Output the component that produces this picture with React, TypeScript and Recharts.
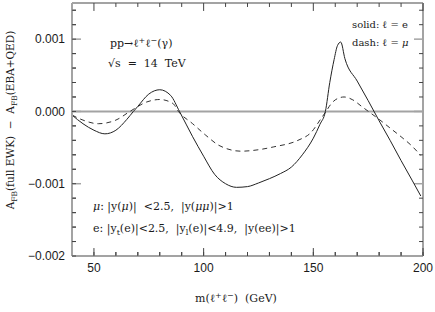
import React from "react"
import { LineChart, Line, XAxis, YAxis, ReferenceLine } from "recharts"

// ─── Data ────────────────────────────────────────────────────────────────────
// solid: l = e
const eMass = [40, 45, 50, 55, 60, 65, 68, 70, 75, 80, 85, 89, 95, 100, 105, 110, 115, 120, 125, 130, 135, 140, 145, 150, 153, 155.5, 157.5, 159.5, 161, 162.5, 164.4, 170, 175, 180, 185, 190, 195, 199]
const eDiff = [-0.00005, -0.00017, -0.00026, -0.00031, -0.00026, -0.00011, 0.0, 0.00007, 0.00024, 0.0003, 0.00022, 0.0, -0.00035, -0.00062, -0.00087, -0.001, -0.00105, -0.00104, -0.00099, -0.00093, -0.00086, -0.00077, -0.0006, -0.00037, -0.00018, 0.0, 0.0004, 0.00072, 0.00091, 0.00096, 0.00073, 0.00042, 0.00015, -0.00013, -0.0004, -0.00068, -0.00095, -0.00117]

// dash: l = mu
const muMass = [40, 45, 52, 60, 66.4, 74, 80, 86, 88.5, 95, 101, 107, 110, 117, 125, 132, 143, 149, 153.5, 155.8, 158, 160, 164, 168, 172, 176, 180, 185, 190, 195, 199]
const muDiff = [-0.00005, -0.00012, -0.00017, -0.00012, 0.0, 0.00013, 0.000165, 0.00011, 0.0, -0.00017, -0.00033, -0.00047, -0.00051, -0.00055, -0.00053, -0.00049, -0.0004, -0.00029, -0.0001, 0.0, 0.0001, 0.00016, 0.0002, 0.00016, 0.00007, -0.00002, -0.00011, -0.00023, -0.00035, -0.00048, -0.00061]

// ─── Axis ticks ──────────────────────────────────────────────────────────────
const xLabelTicks = [50, 100, 150, 200]
const xAllTicks = [40, 50, 60, 70, 80, 90, 100, 110, 120, 130, 140, 150, 160, 170, 180, 190, 200]
const yLabelTicks = [-0.002, -0.001, 0, 0.001]
const yAllTicks = [-0.002, -0.0018, -0.0016, -0.0014, -0.0012, -0.001, -0.0008, -0.0006, -0.0004, -0.0002, 0, 0.0002, 0.0004, 0.0006, 0.0008, 0.001, 0.0012, 0.0014]

const X_DOMAIN: [number, number] = [40, 200]
const Y_DOMAIN: [number, number] = [-0.002, 0.0015]

// tick stub lengths, in axis units (about 4px minor / 8-9px major)
const X_STUB = { minor: 1.8, major: 4.1 }
const Y_STUB = { minor: 0.000055, major: 0.00011 }

const FRAME = "#a3a3a3"
const TICK = "#444"
const INK = "#1a1a1a"
const SERIF = "'DejaVu Serif', serif"
const SANS = "'Liberation Sans', Arial, sans-serif"
const SP = "\u00a0" // keeps the wide gaps of the original typesetting

const eData = eMass.map((x, i) => ({ x, y: eDiff[i] }))
const muData = muMass.map((x, i) => ({ x, y: muDiff[i] }))

const isIn = (list: number[], v: number) => list.some((m) => Math.abs(m - v) < 1e-9)
// only the major ticks carry a label
const fmtX = (v: number) => (isIn(xLabelTicks, v) ? String(v) : "")
const fmtY = (v: number) =>
  isIn(yLabelTicks, v) ? (v < 0 ? "\u2212" : "") + Math.abs(v).toFixed(3) : ""

type Pt = { x: number; y: number }
type Stub = { key: string; seg: [Pt, Pt]; major: boolean; vertical: boolean }

// inward tick stubs on the top/right edges, and the longer major stubs
const stubs: Stub[] = [
  ...yAllTicks.flatMap((v) => {
    const major = isIn(yLabelTicks, v)
    const L = major ? X_STUB.major : X_STUB.minor
    return [
      { key: `l${v}`, seg: [{ x: X_DOMAIN[0], y: v }, { x: X_DOMAIN[0] + L, y: v }] as [Pt, Pt], major, vertical: true },
      { key: `r${v}`, seg: [{ x: X_DOMAIN[1] - L, y: v }, { x: X_DOMAIN[1], y: v }] as [Pt, Pt], major, vertical: true },
    ]
  }),
  ...xAllTicks.flatMap((v) => {
    const major = isIn(xLabelTicks, v)
    const L = major ? Y_STUB.major : Y_STUB.minor
    return [
      { key: `b${v}`, seg: [{ x: v, y: Y_DOMAIN[0] }, { x: v, y: Y_DOMAIN[0] + L }] as [Pt, Pt], major, vertical: false },
      { key: `t${v}`, seg: [{ x: v, y: Y_DOMAIN[1] - L }, { x: v, y: Y_DOMAIN[1] }] as [Pt, Pt], major, vertical: false },
    ]
  }),
]

// ─── Overlay text (annotations, axis titles) ────────────────────────────────
function Annotations() {
  const t = { fontFamily: SERIF, fontSize: 11, fill: INK }
  return (
    <svg
      width={435}
      height={312}
      style={{ position: "absolute", left: 0, top: 0, pointerEvents: "none" }}
    >
      <text {...t} x={110} y={47}>
        pp{"\u2192"}{"\u2113"}
        <tspan dy={-4} fontSize={8}>+</tspan>
        <tspan dy={4}>{"\u2113"}</tspan>
        <tspan dy={-4} fontSize={8}>{"\u2212"}</tspan>
        <tspan dy={4}>({"\u03b3"})</tspan>
      </text>
      <text {...t} x={108} y={67}>
        {`\u221as${SP}${SP}=${SP}${SP}14${SP}${SP}TeV`}
      </text>
      <text {...t} fontSize={10} x={352} y={28}>
        solid: {"\u2113"}{SP}={SP}e
      </text>
      <text {...t} fontSize={10} x={352} y={46}>
        dash: {"\u2113"}{SP}={SP}<tspan fontStyle="italic">{"\u03bc"}</tspan>
      </text>
      <text {...t} x={93} y={210}>
        <tspan fontStyle="italic">{"\u03bc"}</tspan>: |y(<tspan fontStyle="italic">{"\u03bc"}</tspan>)|{SP}{SP}{"<"}2.5,{SP}{SP}|y(<tspan fontStyle="italic">{"\u03bc\u03bc"}</tspan>)|{">"}1
      </text>
      <text {...t} x={93} y={232}>
        e:{SP}|y<tspan dy={3} fontSize={8}>t</tspan>
        <tspan dy={-3}>{`(e)|<2.5,${SP}${SP}|y`}</tspan>
        <tspan dy={3} fontSize={8}>l</tspan>
        <tspan dy={-3}>{`(e)|<4.9,${SP}${SP}|y(ee)|>1`}</tspan>
      </text>

      <text {...t} fontSize={11} x={236} y={302} textAnchor="middle">
        m({"\u2113"}
        <tspan dy={-4} fontSize={8}>+</tspan>
        <tspan dy={4}>{"\u2113"}</tspan>
        <tspan dy={-4} fontSize={8}>{"\u2212"}</tspan>
        <tspan dy={4}>{`)${SP}${SP}(GeV)`}</tspan>
      </text>

      <text
        {...t}
        fontSize={10.5}
        textAnchor="middle"
        transform="translate(14,120) rotate(-90)"
      >
        A<tspan dy={3} fontSize={7.5}>FB</tspan>
        <tspan dy={-3}>{`(full${SP}EWK)${SP}${SP}\u2212${SP}${SP}A`}</tspan>
        <tspan dy={3} fontSize={7.5}>FB</tspan>
        <tspan dy={-3}>(EBA+QED)</tspan>
      </text>
    </svg>
  )
}

// ─── Chart ───────────────────────────────────────────────────────────────────
export default function App() {
  return (
    <div
      style={{
        position: "absolute",
        left: 0,
        top: 0,
        width: 435,
        height: 312,
        background: "#fff",
      }}
    >
      <LineChart
        width={435}
        height={312}
        margin={{ top: 3, right: 12, left: 0, bottom: 0 }}
      >
        {/* negative tickSize turns the native tick lines inward */}
        <XAxis
          type="number"
          dataKey="x"
          domain={X_DOMAIN}
          allowDataOverflow
          ticks={xAllTicks}
          interval={0}
          height={56}
          tickSize={-4}
          tickMargin={11}
          tickFormatter={fmtX}
          tickLine={{ stroke: TICK, strokeWidth: 1 }}
          axisLine={{ stroke: FRAME, strokeWidth: 2 }}
          tick={{ fontFamily: SANS, fontSize: 12, fill: INK }}
        />
        <YAxis
          type="number"
          domain={Y_DOMAIN}
          allowDataOverflow
          ticks={yAllTicks}
          interval={0}
          width={72}
          tickSize={-4}
          tickMargin={11}
          tickFormatter={fmtY}
          tickLine={{ stroke: TICK, strokeWidth: 1 }}
          axisLine={{ stroke: FRAME, strokeWidth: 2 }}
          tick={{ fontFamily: SANS, fontSize: 12, fill: INK }}
        />

        {/* top and right frame edges */}
        <ReferenceLine y={Y_DOMAIN[1]} stroke={FRAME} strokeWidth={2} ifOverflow="visible" />
        <ReferenceLine x={X_DOMAIN[1]} stroke={FRAME} strokeWidth={2} ifOverflow="visible" />

        {/* inward tick stubs */}
        {stubs.map((s) => (
          <ReferenceLine
            key={s.key}
            segment={s.seg}
            ifOverflow="visible"
            stroke={s.major && s.vertical ? FRAME : TICK}
            strokeWidth={s.major && s.vertical ? 1.5 : 1}
          />
        ))}

        <ReferenceLine y={0} stroke={FRAME} strokeWidth={2} />

        <Line
          data={muData}
          dataKey="y"
          type="monotone"
          stroke="#333"
          strokeWidth={1}
          strokeDasharray="5 4"
          dot={false}
          isAnimationActive={false}
        />
        <Line
          data={eData}
          dataKey="y"
          type="monotone"
          stroke="#222"
          strokeWidth={1}
          dot={false}
          isAnimationActive={false}
        />
      </LineChart>
      <Annotations />
    </div>
  )
}
